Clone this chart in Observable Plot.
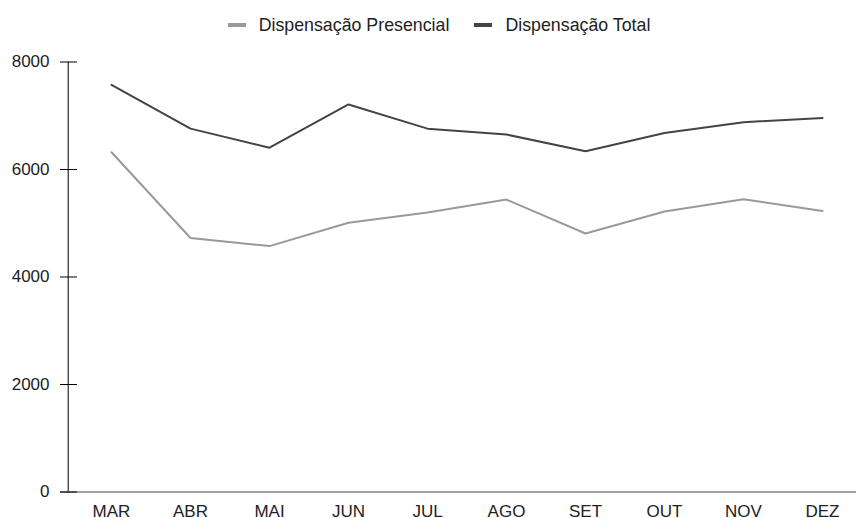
<!DOCTYPE html>
<html><head><meta charset="utf-8">
<script src="https://cdn.jsdelivr.net/npm/d3@7"></script>
<script src="https://cdn.jsdelivr.net/npm/@observablehq/plot@0.6"></script>
<style>
body{margin:0;background:#fff;font-family:"Liberation Sans",Arial,sans-serif;}
#legend{height:50px;display:flex;align-items:center;justify-content:center;padding-left:22px;box-sizing:border-box;font-size:17.8px;color:#222}
.item{display:flex;align-items:center;margin:0 12.5px}
.sw{width:18px;height:4px;margin-right:13px}
</style></head><body>
<div id="legend"></div>
<div id="chart"></div>
<script>
const months = ["MAR","ABR","MAI","JUN","JUL","AGO","SET","OUT","NOV","DEZ"];
const presencial = [6320, 4725, 4575, 5010, 5200, 5440, 4810, 5220, 5445, 5230];
const total = [7575, 6760, 6405, 7210, 6760, 6650, 6340, 6680, 6880, 6960];
const seriesNames = ["Dispensação Presencial", "Dispensação Total"];
const seriesColors = ["#999999", "#444444"];
const yTicks = [0, 2000, 4000, 6000, 8000];

const data = months.flatMap((m, i) => [
  {month: m, series: seriesNames[0], value: presencial[i]},
  {month: m, series: seriesNames[1], value: total[i]}
]);

const legend = document.getElementById("legend");
seriesNames.forEach((name, i) => {
  const item = document.createElement("div");
  item.className = "item";
  const sw = document.createElement("span");
  sw.className = "sw";
  sw.style.background = seriesColors[i];
  const t = document.createElement("span");
  t.textContent = name;
  item.appendChild(sw); item.appendChild(t);
  legend.appendChild(item);
});

const chart = Plot.plot({
  width: 856, height: 468,
  marginLeft: 60, marginRight: 0, marginTop: 11.5, marginBottom: 26.5,
  x: {type: "point", domain: months, range: [108, 825], padding: 0, label: null},
  y: {domain: [0, 8000], label: null},
  color: {domain: seriesNames, range: seriesColors},
  style: {fontFamily: '"Liberation Sans", Arial, sans-serif', fontSize: "17px", color: "#222", background: "#fff"},
  marks: [
    Plot.frame({anchor: "left", dx: 7.7, stroke: "#000"}),
    Plot.ruleY([0], {stroke: "#808080", strokeWidth: 1.5}),
    Plot.ruleY(yTicks, {y: d => d, insetRight: 779, stroke: "#000"}),
    Plot.lineY(data, {x: "month", y: "value", stroke: "series", strokeWidth: 2}),
    Plot.axisY({ticks: yTicks, tickSize: 0, tickPadding: 11, tickFormat: d => String(d), fontSize: 17, label: null}),
    Plot.axisX({tickSize: 0, tickPadding: 12.5, fontSize: 17, label: null})
  ]
});
document.getElementById("chart").appendChild(chart);
</script>
</body></html>
